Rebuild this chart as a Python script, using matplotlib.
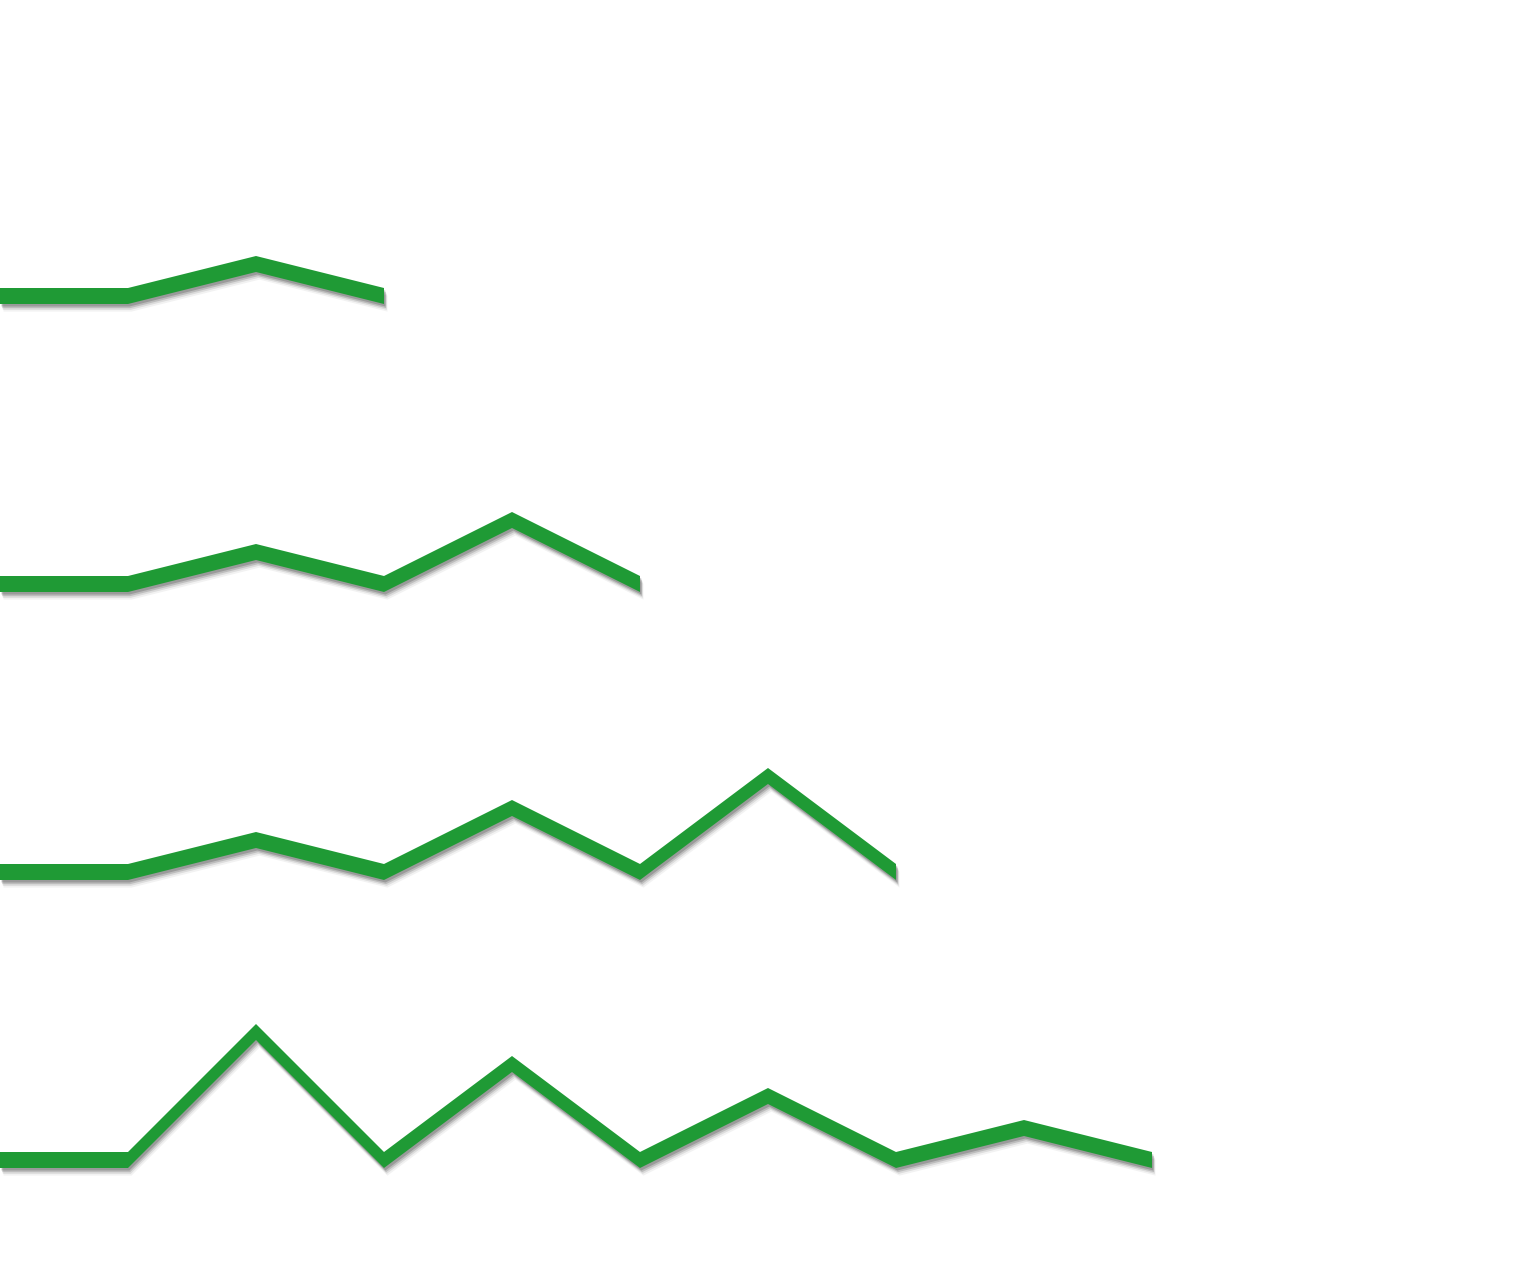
import matplotlib
matplotlib.use("Agg")
import matplotlib.pyplot as plt
import matplotlib.patheffects as pe

# four zigzag series, one step per x position
steps_1 = [0, 1, 2, 3]
values_1 = [0, 0, 1, 0]
steps_2 = [0, 1, 2, 3, 4, 5]
values_2 = [0, 0, 1, 0, 2, 0]
steps_3 = [0, 1, 2, 3, 4, 5, 6, 7]
values_3 = [0, 0, 1, 0, 2, 0, 3, 0]
steps_4 = [0, 1, 2, 3, 4, 5, 6, 7, 8, 9]
values_4 = [0, 0, 4, 0, 3, 0, 2, 0, 1, 0]

series = [(steps_1, values_1), (steps_2, values_2), (steps_3, values_3), (steps_4, values_4)]

band_color = "#1f9a35"
row_gap = 9        # vertical distance between rows, in value units
band_height = 0.5  # ribbon thickness, in value units

fig = plt.figure(figsize=(15.36, 12.8), dpi=100)
ax = fig.add_axes([0, 0, 1, 1])

# soft drop shadow built from a few stacked offset layers
shadow = [
    pe.SimplePatchShadow(offset=(2.5, -5.5), shadow_rgbFace="black", alpha=0.05),
    pe.SimplePatchShadow(offset=(2, -4.2), shadow_rgbFace="black", alpha=0.09),
    pe.SimplePatchShadow(offset=(1.5, -3), shadow_rgbFace="black", alpha=0.14),
    pe.SimplePatchShadow(offset=(1, -1.8), shadow_rgbFace="black", alpha=0.18),
    pe.Normal(),
]

for i, (xs, ys) in enumerate(series):
    top = [v - row_gap * i for v in ys]
    bottom = [t - band_height for t in top]
    ax.fill_between(xs, bottom, top, color=band_color, linewidth=0,
                    path_effects=shadow)

ax.set_xlim(0, 12)
ax.set_ylim(-31, 9)
ax.axis("off")

fig.savefig("out.png", dpi=100, facecolor="white")
